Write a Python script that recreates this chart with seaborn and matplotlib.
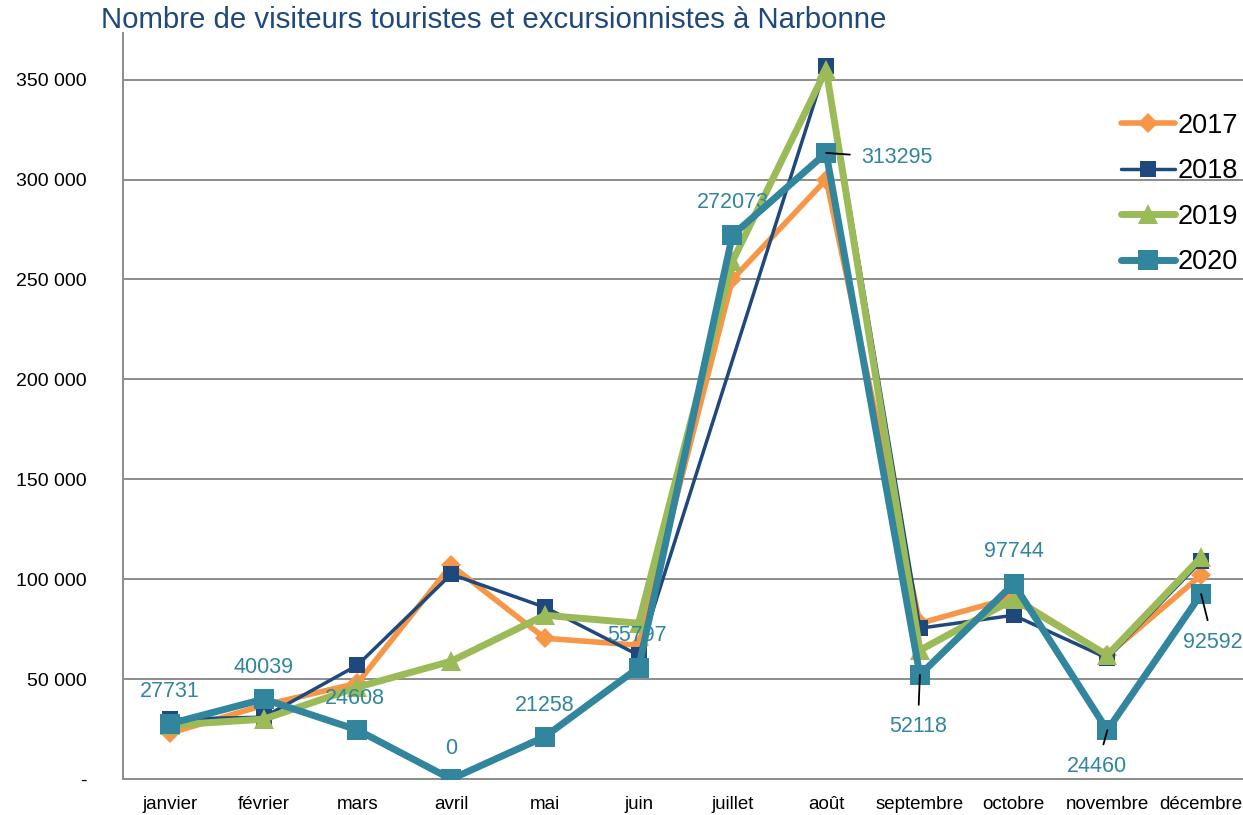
import numpy as np
import pandas as pd
import matplotlib
matplotlib.use("Agg")
import matplotlib.pyplot as plt
import matplotlib.ticker as mticker
import seaborn as sns

# Months shown on the x axis
months = ["janvier", "février", "mars", "avril", "mai", "juin", "juillet",
          "août", "septembre", "octobre", "novembre", "décembre"]

# Visitor counts per year
v2017 = [23000, 37000, 48000, 107000, 70500, 67000, 250000, 300000, 78000, 91000, 62000, 102000]
v2018 = [30000, 31000, 57000, 102500, 86000, 62000, np.nan, 357000, 75500, 82000, 60500, 109000]
v2019 = [27000, 30000, 46000, 59000, 82000, 78000, 259000, 355000, 64500, 90000, 62000, 111000]
v2020 = [27731, 40039, 24608, 0, 21258, 55797, 272073, 313295, 52118, 97744, 24460, 92592]

years = ["2017", "2018", "2019", "2020"]
colors = ["#F79646", "#1F497D", "#9BBB59", "#31859C"]
markers = ["D", "s", "^", "s"]
marker_sizes = [10, 11, 14, 14]
line_widths = [4, 2.5, 5, 5]

# Offsets (pixels) of the 2020 data labels, and whether a leader line is drawn
label_offsets = [(0, 32), (0, 32), (-3, 31), (0, 31), (0, 31), (-2, 32),
                 (0, 33), (71, -5), (-2, -52), (0, 32), (-10, -36), (12, -48)]
leaders = [False, False, False, False, False, False,
           False, True, True, False, True, True]


def thousands(v, pos):
    if v == 0:
        return "-"
    return f"{int(v):,}".replace(",", " ")


def main():
    sns.set_theme(style="white")
    plt.rcParams["font.family"] = ["Liberation Sans", "DejaVu Sans"]

    df = pd.DataFrame({"month": np.arange(len(months)),
                       "2017": v2017, "2018": v2018, "2019": v2019, "2020": v2020})

    fig = plt.figure(figsize=(12.43, 8.15), dpi=100)
    ax = fig.add_axes([0.099, 0.044, 0.905, 0.916])

    # One line per year so each can keep its own width / marker
    for year, col, mk, ms, lw in zip(years, colors, markers, marker_sizes, line_widths):
        sub = df[["month", year]].dropna()
        sns.lineplot(data=sub, x="month", y=year, ax=ax, color=col, marker=mk,
                     markersize=ms, markeredgewidth=0, linewidth=lw, label=year,
                     zorder=3)

    # Data labels for 2020
    for i, val in enumerate(v2020):
        dx, dy = label_offsets[i]
        arrow = dict(arrowstyle="-", color="black", lw=1.3, shrinkA=6, shrinkB=0) if leaders[i] else None
        ax.annotate(str(val), xy=(i, val), xytext=(dx, dy), textcoords="offset pixels",
                    ha="center", va="center", fontsize=15.5, color="#31859C",
                    arrowprops=arrow, zorder=5)

    ax.set_xlim(-0.5, len(months) - 0.5)
    ax.set_ylim(0, 373500)
    ax.yaxis.set_major_locator(mticker.FixedLocator(np.arange(0, 350001, 50000)))
    ax.yaxis.set_major_formatter(mticker.FuncFormatter(thousands))
    ax.set_xticks(np.arange(len(months)))
    ax.set_xticklabels(months)
    ax.set_xticks(np.arange(-0.5, len(months)), minor=True)
    ax.tick_params(axis="x", which="major", length=0, pad=12, labelsize=13.5, colors="black")
    ax.tick_params(axis="x", which="minor", length=6, width=1.2, color="#8c8c8c", direction="out")
    ax.tick_params(axis="y", length=5, width=1.2, color="#8c8c8c", direction="out",
                   labelsize=14, pad=21, labelcolor="black")
    ax.set_xlabel("")
    ax.set_ylabel("")

    ax.grid(axis="y", color="#8c8c8c", linewidth=1.4)
    ax.set_axisbelow(True)
    for side in ["top", "right"]:
        ax.spines[side].set_visible(False)
    for side in ["left", "bottom"]:
        ax.spines[side].set_color("#8c8c8c")
        ax.spines[side].set_linewidth(1.4)

    ax.legend(loc="upper left", bbox_to_anchor=(0.893, 0.875), bbox_transform=fig.transFigure,
              frameon=False, fontsize=19.5, handlelength=2.0, handletextpad=0.1,
              labelspacing=0.72, borderaxespad=0, labelcolor="black")

    fig.text(0.081, 0.975, "Nombre de visiteurs touristes et excursionnistes à Narbonne",
             ha="left", va="center", fontsize=21.2, color="#1F497D")

    fig.savefig("out.png", dpi=100)
    plt.close(fig)


if __name__ == "__main__":
    main()
